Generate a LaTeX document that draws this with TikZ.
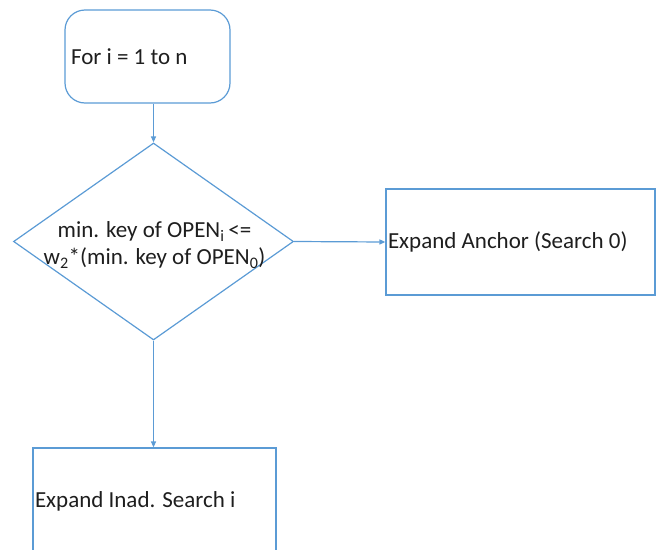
\documentclass[tikz,border=0pt]{standalone}
\usepackage{fontspec}
\setmainfont{Carlito}
\usetikzlibrary{shapes.geometric,arrows.meta}
\definecolor{lineblue}{HTML}{5B9BD5}
\definecolor{txt}{HTML}{1E1E1E}
\tikzset{
  flow/.style={draw=lineblue, line width=1.2pt},
  conn/.style={draw=lineblue, line width=1.2pt, -{Triangle[length=6pt,width=5pt]}},
  boxtext/.style={font=\fontsize{23}{27.6}\selectfont, text=txt},
}
\begin{document}
\begin{tikzpicture}[x=1pt,y=-1pt]
\useasboundingbox (0,0) rectangle (656,549);
\clip (0,0) rectangle (656,549);
\node[flow, rounded corners=20pt, minimum width=165pt, minimum height=93pt,
      text width=153pt, inner xsep=6pt, align=flush left, boxtext] (start) at (147.5,56.5) {For i = 1 to n};
\node[flow, diamond, minimum width=280pt, minimum height=197pt, inner sep=0pt] (cond) at (153.5,241.5) {};
\node[boxtext, align=flush center, inner sep=0pt] (condtext) at (154.5,245) {min. key of OPEN\textsubscript{i}\,<=\\w\textsubscript{2}*(min. key of OPEN\textsubscript{0})};
\node[flow, minimum width=269pt, minimum height=106pt, text width=265pt, inner xsep=2pt, align=flush left, boxtext] (anchor) at (520.5,242) {Expand Anchor (Search 0)};
\node[flow, minimum width=243pt, minimum height=106pt, text width=239pt, inner xsep=2pt, align=flush left, boxtext] (inad) at (154.5,501) {Expand Inad. Search i};
\draw[conn] (start.south -| cond.north) -- (cond.north);
\draw[conn] (cond.east) -- (anchor.west);
\draw[conn] (cond.south) -- (cond.south |- inad.north);
\end{tikzpicture}
\end{document}
